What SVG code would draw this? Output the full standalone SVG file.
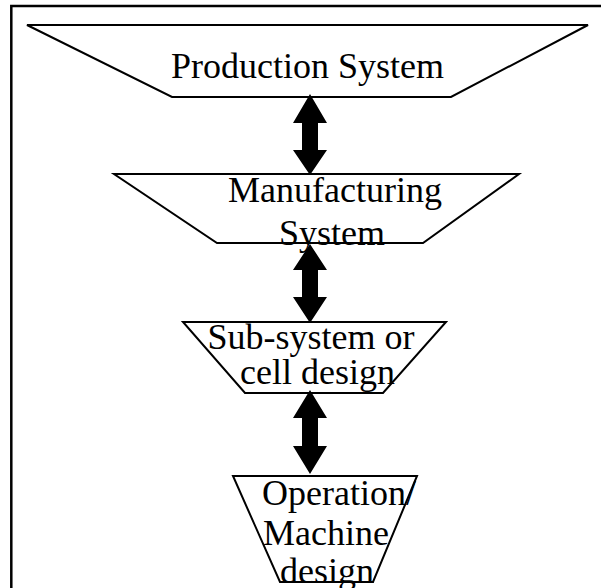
<svg xmlns="http://www.w3.org/2000/svg" width="601" height="588" viewBox="0 0 601 588">
<style>
.shape{fill:#fff;stroke:#000;stroke-width:2}
.lbl{font-family:"Liberation Serif","Times New Roman",serif;font-size:36px;fill:#000;text-anchor:middle}
.arr{fill:#000;stroke:none}
</style>
<rect x="0" y="0" width="601" height="588" fill="#fff"/>
<rect x="11.3" y="6" width="620" height="620" fill="none" stroke="#000" stroke-width="2.5"/>
<g id="production">
<polygon class="shape" points="27,25 588,25 451,97 172,97"/>
<text class="lbl" x="307.5" y="78">Production System</text>
</g>
<g id="manufacturing">
<polygon class="shape" points="114,174 519,174 423,243 217,243"/>
<text class="lbl" x="335" y="202">Manufacturing</text>
<text class="lbl" x="332" y="245">System</text>
</g>
<g id="subsystem">
<polygon class="shape" points="183,322 446,322 383,393 245,393"/>
<text class="lbl" x="311" y="349">Sub-system or</text>
<text class="lbl" x="317.5" y="384">cell design</text>
</g>
<g id="operation">
<polygon class="shape" points="233,476 417,476 373,582 280,582"/>
<text class="lbl" x="339" y="505">Operation/</text>
<text class="lbl" x="326" y="545">Machine</text>
<text class="lbl" x="327" y="583">design</text>
</g>
<g id="connectors">
<polygon class="arr" points="310,94 327,123 318,123 318,150 327,150 310,175 293,150 302,150 302,123 293,123"/>
<polygon class="arr" points="310,244 327,270 318,270 318,297 327,297 310,323 293,297 302,297 302,270 293,270"/>
<polygon class="arr" points="310,390 327,418 318,418 318,446 327,446 310,474 293,446 302,446 302,418 293,418"/>
</g>
</svg>
